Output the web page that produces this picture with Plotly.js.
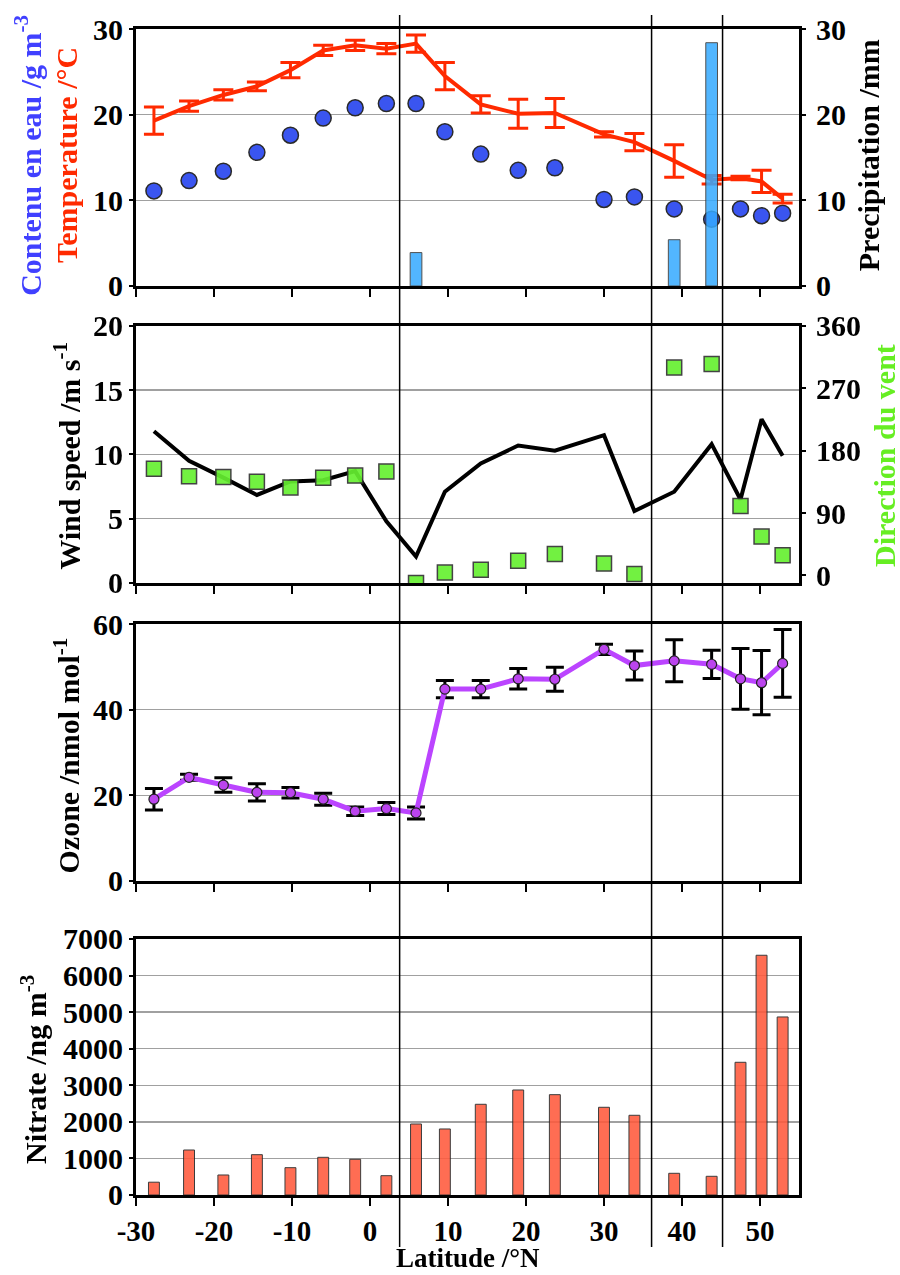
<!DOCTYPE html>
<html><head><meta charset="utf-8">
<script src="https://cdn.plot.ly/plotly-3.0.1.min.js"></script>
<style>
html,body{margin:0;padding:0;background:#fff}
#chart svg text{font-family:'Liberation Serif','Times New Roman',serif !important;font-weight:bold !important}
</style>
</head><body><div id="chart" style="width:900px;height:1275px"></div>
<script>
// ---- data ----
const latitude = [-27.7, -23.2, -18.8, -14.5, -10.2, -6.0, -1.9, 2.1, 5.9, 9.6, 14.2, 19.0, 23.7, 30.0, 33.9, 39.0, 43.8, 47.5, 50.2, 52.9];
const temperature = [19.3, 21.0, 22.3, 23.3, 25.2, 27.5, 28.1, 27.7, 28.3, 24.5, 21.2, 20.1, 20.2, 17.7, 16.8, 14.6, 12.4, 12.6, 12.2, 10.2];
const temperatureErr = [1.6, 0.6, 0.6, 0.5, 0.9, 0.6, 0.6, 0.6, 1.0, 1.6, 1.0, 1.7, 1.7, 0.3, 1.0, 1.9, 0.5, 0.2, 1.3, 0.5];
const waterContent = [11.1, 12.3, 13.4, 15.6, 17.6, 19.6, 20.8, 21.3, 21.3, 18.0, 15.4, 13.5, 13.8, 10.1, 10.4, 9.0, 7.8, 9.0, 8.2, 8.5];
const precipitation = [0, 0, 0, 0, 0, 0, 0, 0, 3.9, 0, 0, 0, 0, 0, 0, 5.4, 28.4, 0, 0, 0];
const windSpeed = [11.8, 9.5, 8.2, 6.85, 7.9, 8.0, 8.7, 4.8, 2.05, 7.1, 9.3, 10.7, 10.3, 11.5, 5.6, 7.1, 10.8, 6.5, 12.75, 9.9];
const windDirection = [154, 143, 142, 135, 127, 141, 144, 150, -11, 4, 8, 21, 31, 17, 2, 300, 305, 100, 56, 29];
const ozone = [19.1, 24.2, 22.4, 20.7, 20.6, 19.1, 16.3, 16.9, 15.9, 44.8, 44.8, 47.2, 47.1, 54.1, 50.3, 51.4, 50.6, 47.2, 46.3, 50.8];
const ozoneErr = [2.5, 0.7, 1.7, 2.0, 1.2, 1.4, 1.0, 1.4, 1.4, 2.0, 2.0, 2.4, 2.8, 1.2, 3.4, 4.9, 3.3, 7.1, 7.5, 7.9];
const nitrate = [350, 1230, 547, 1102, 747, 1030, 976, 528, 1941, 1805, 2480, 2871, 2743, 2398, 2179, 593, 511, 3628, 6554, 4867];
const dividerLatitudes = [3.8, 36.1, 45.2];
const xTicks = [-30, -20, -10, 0, 10, 20, 30, 40, 50];
const xTickLabels = ['-30', '-20', '-10', '0', '10', '20', '30', '40', '50'];
const directionTicks = [0, 90, 180, 270, 360];

// ---- styling ----
const FONT = 'Liberation Serif';
const FS = 30;
const precipLat = latitude.filter((_, i) => precipitation[i] > 0);
const precipVal = precipitation.filter(v => v > 0);

const traces = [
  {x: latitude, y: waterContent, xaxis: 'x', yaxis: 'y', mode: 'markers', type: 'scatter',
   marker: {size: 16, color: '#3a55f0', line: {color: '#2a2a2a', width: 1.5}}},
  {x: latitude, y: temperature, xaxis: 'x', yaxis: 'y', mode: 'lines', type: 'scatter',
   line: {color: '#ff2a00', width: 4},
   error_y: {type: 'data', array: temperatureErr, visible: true, color: '#ff2a00', thickness: 3, width: 10}},
  {x: precipLat, y: precipVal, xaxis: 'x', yaxis: 'y2', type: 'bar', width: 1.5, opacity: 0.85,
   marker: {color: '#35aaff', line: {color: '#333', width: 1}}},
  {x: latitude, y: windSpeed, xaxis: 'x2', yaxis: 'y3', mode: 'lines', type: 'scatter',
   line: {color: '#000', width: 4}},
  {x: latitude, y: windDirection, xaxis: 'x2', yaxis: 'y4', mode: 'markers', type: 'scatter',
   opacity: 0.92, marker: {symbol: 'square', size: 15, color: '#66f030', line: {color: '#333', width: 1.5}}},
  {x: latitude, y: ozone, xaxis: 'x3', yaxis: 'y5', mode: 'lines+markers', type: 'scatter',
   line: {color: '#bb44ff', width: 5},
   marker: {size: 10, color: '#bb44ee', line: {color: '#222', width: 1.2}},
   error_y: {type: 'data', array: ozoneErr, visible: true, color: '#000', thickness: 3, width: 9}},
  {x: latitude, y: nitrate, xaxis: 'x4', yaxis: 'y6', type: 'bar', width: 1.4, opacity: 0.88,
   marker: {color: '#ff5a3c', line: {color: '#222', width: 1}}}
];

const TF = {family: FONT, size: FS, color: '#000', weight: 'bold'};
const XTF = {family: FONT, size: 29, color: '#000', weight: 'bold'};

function xa(anchor, showLabels) {
  return {anchor: anchor, domain: [0, 1], range: [-30, 55], tickmode: 'array',
    tickvals: xTicks, ticktext: xTickLabels,
    showticklabels: showLabels, ticks: 'outside', ticklen: 8, tickwidth: 2, tickcolor: '#000',
    showline: true, linewidth: 3, linecolor: '#000', mirror: true, showgrid: false, zeroline: false,
    ticklabelstandoff: 0, tickfont: XTF};
}
function ya(domain, range, extra) {
  return Object.assign({domain: domain, range: range, ticks: 'outside', ticklen: 4, tickwidth: 2,
    tickcolor: '#000', showline: true, linewidth: 3, linecolor: '#000', mirror: true,
    showgrid: true, gridcolor: '#a0a0a0', gridwidth: 1.5, zeroline: false, tickfont: TF}, extra || {});
}
function yr(overlay, anchor, range, extra) {
  return Object.assign({overlaying: overlay, side: 'right', anchor: anchor, range: range, ticks: 'outside',
    ticklen: 4, tickwidth: 2, tickcolor: '#000', showline: true, linewidth: 3, linecolor: '#000',
    showgrid: false, zeroline: false, ticklabelstandoff: 4, tickfont: TF}, extra || {});
}

const D1 = [0.7796, 1.0], D2 = [0.5249, 0.7453], D3 = [0.2693, 0.4897], D4 = [0, 0.2196];

const shapes = dividerLatitudes.map(v => ({type: 'line', xref: 'x', yref: 'paper',
  x0: v, x1: v, y0: -0.0446, y1: 1.012, layer: 'above', line: {color: '#000', width: 1.5}}));

function ann(text, x, y, color, angle, yanchor, size) {
  return {text: text, xref: 'paper', yref: 'paper', x: x, y: y, showarrow: false,
    textangle: angle, xanchor: 'center', yanchor: yanchor || 'middle',
    font: {family: FONT, size: size || FS, color: color, weight: 'bold'}};
}

const layout = {
  width: 900, height: 1275,
  margin: {l: 136, r: 101, t: 29, b: 80},
  paper_bgcolor: '#fff', plot_bgcolor: 'rgba(0,0,0,0)',
  showlegend: false, barmode: 'overlay',
  font: {family: FONT, size: FS, color: '#000', weight: 'bold'},
  xaxis: xa('y', false), xaxis2: xa('y3', false), xaxis3: xa('y5', false), xaxis4: xa('y6', true),
  yaxis: ya(D1, [0, 30], {dtick: 10}),
  yaxis2: yr('y', 'x', [0, 30], {dtick: 10}),
  yaxis3: ya(D2, [0, 20], {dtick: 5}),
  yaxis4: yr('y3', 'x2', [-11, 360], {tickmode: 'array', tickvals: directionTicks}),
  yaxis5: ya(D3, [0, 60], {dtick: 20}),
  yaxis6: ya(D4, [0, 7000], {dtick: 1000}),
  shapes: shapes,
  annotations: [
    ann('Contenu en eau /g m<sup>-3</sup>', -0.163, 0.892, '#4040ff', -90),
    ann('Temperature /°C', -0.104, 0.892, '#ff2a00', -90),
    ann('Precipitation /mm', 1.106, 0.892, '#000', -90),
    ann('Wind speed /m s<sup>-1</sup>', -0.104, 0.634, '#000', -90),
    ann('Direction du vent', 1.130, 0.634, '#66ee22', -90),
    ann('Ozone /nmol mol<sup>-1</sup>', -0.104, 0.377, '#000', -90),
    ann('Nitrate /ng m<sup>-3</sup>', -0.154, 0.108, '#000', -90),
    ann('Latitude /°N', 0.5, -0.0686, '#000', 0, 'bottom', 27)
  ]
};

Plotly.newPlot('chart', traces, layout, {displayModeBar: false, staticPlot: true});
</script>
</body></html>
